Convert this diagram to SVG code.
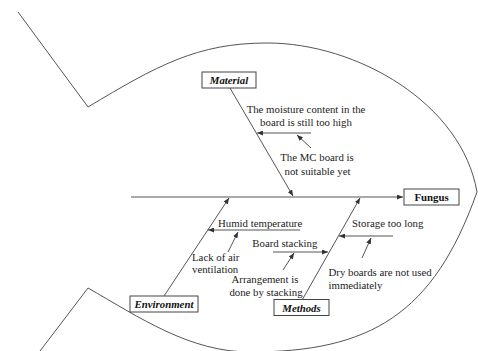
<svg xmlns="http://www.w3.org/2000/svg" width="478" height="351" viewBox="0 0 478 351">
  <style>
    .outline { fill: none; stroke: #555; stroke-width: 1; }
    .conn { fill: none; stroke: #555; stroke-width: 1; }
    .box { fill: #fff; stroke: #444; stroke-width: 1; }
    .cat { font-family: "Liberation Serif", "Times New Roman", serif; font-size: 10.8px; font-weight: bold; font-style: italic; fill: #111; text-anchor: middle; }
    .head { font-family: "Liberation Serif", "Times New Roman", serif; font-size: 10.8px; font-weight: bold; fill: #111; text-anchor: middle; }
    .lbl { font-family: "Liberation Serif", "Times New Roman", serif; font-size: 10.8px; fill: #222; }
    .mid { text-anchor: middle; }
  </style>
  <defs>
    <marker id="arrow" markerUnits="userSpaceOnUse" markerWidth="6" markerHeight="5" refX="6" refY="2.5" orient="auto">
      <path d="M0,0 L6,2.5 L0,5 z" fill="#333"/>
    </marker>
  </defs>

  <rect width="478" height="351" fill="#fff"/>

  <!-- fish outline: tail fins and body -->
  <path class="outline" d="M18,12 L88,107 C156.6,65.9 197,43 267,43 C357,43 461.7,103.3 477,192 C433.6,314.6 370,352 250,352 C190,352 140,317.8 88,288 L40,351"/>

  <!-- connectors -->
  <g id="connectors">
    <path class="conn" d="M131,197 L403,197" marker-end="url(#arrow)"/>
    <path class="conn" d="M230,88 L293,196" marker-end="url(#arrow)"/>
    <path class="conn" d="M164,296 L229,198" marker-end="url(#arrow)"/>
    <path class="conn" d="M302.7,299 L360,198" marker-end="url(#arrow)"/>
    <path class="conn" d="M311,133 L257,133" marker-end="url(#arrow)"/>
    <path class="conn" d="M311,148 L297,135" marker-end="url(#arrow)"/>
    <path class="conn" d="M300,230 L208,230" marker-end="url(#arrow)"/>
    <path class="conn" d="M228,252 L238,232" marker-end="url(#arrow)"/>
    <path class="conn" d="M273,252 L328,252" marker-end="url(#arrow)"/>
    <path class="conn" d="M283,270 L294,253" marker-end="url(#arrow)"/>
    <path class="conn" d="M393,236 L339,236" marker-end="url(#arrow)"/>
    <path class="conn" d="M362,258 L371,238" marker-end="url(#arrow)"/>
  </g>

  <!-- effect -->
  <g id="fungus">
    <rect class="box" x="404" y="189" width="55" height="16"/>
    <text class="head" x="431.5" y="201">Fungus</text>
  </g>

  <!-- categories -->
  <g id="material">
    <rect class="box" x="202" y="72" width="54" height="16"/>
    <text class="cat" x="229" y="84">Material</text>
  </g>
  <g id="environment">
    <rect class="box" x="130" y="296" width="68" height="16"/>
    <text class="cat" x="164" y="308">Environment</text>
  </g>
  <g id="methods">
    <rect class="box" x="274" y="299.5" width="55" height="16"/>
    <text class="cat" x="301.5" y="311.5">Methods</text>
  </g>

  <!-- causes -->
  <g id="moisture">
    <text class="lbl mid" x="306" y="113">The moisture content in the</text>
    <text class="lbl mid" x="306" y="125.5">board is still too high</text>
  </g>
  <g id="mc-board">
    <text class="lbl mid" x="317" y="161">The MC board is</text>
    <text class="lbl mid" x="317.5" y="175">not suitable yet</text>
  </g>
  <g id="humid">
    <text class="lbl" x="218" y="227">Humid temperature</text>
  </g>
  <g id="ventilation">
    <text class="lbl" x="192" y="261">Lack of air</text>
    <text class="lbl" x="192" y="273">ventilation</text>
  </g>
  <g id="board-stacking">
    <text class="lbl" x="252.3" y="247">Board stacking</text>
  </g>
  <g id="arrangement">
    <text class="lbl mid" x="265" y="283">Arrangement is</text>
    <text class="lbl mid" x="266" y="295.5">done by stacking</text>
  </g>
  <g id="storage">
    <text class="lbl" x="352" y="227">Storage too long</text>
  </g>
  <g id="dry-boards">
    <text class="lbl" x="328.5" y="276">Dry boards are not used</text>
    <text class="lbl" x="328.5" y="289">immediately</text>
  </g>
</svg>
